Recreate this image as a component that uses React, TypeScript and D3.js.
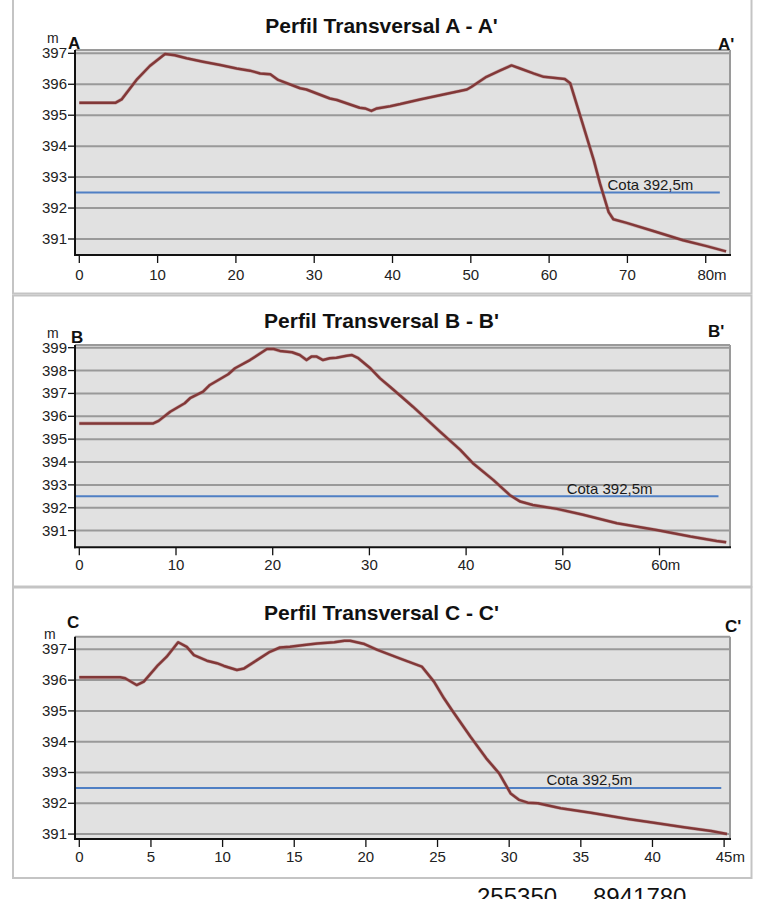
import React from "react";
import * as d3 from "d3";

// ---------- DATA ----------
const distA = [0, 4.6, 5.4, 7.3, 9.0, 10.95, 12.2, 13.7, 15.8, 18.0, 20.1, 21.8, 23.1, 24.4, 25.4, 28.2, 29.0, 32.0, 32.9, 35.8, 36.5, 37.3, 38.0, 39.7, 41.0, 43.5, 46.5, 49.5, 50.1, 52.0, 53.7, 55.2, 56.3, 58.0, 59.3, 60.5, 62.0, 62.7, 64.2, 65.7, 66.5, 67.6, 68.2, 69.9, 73.3, 77.1, 80.1, 82.6];
const elevA = [395.40, 395.40, 395.51, 396.14, 396.59, 396.98, 396.94, 396.84, 396.73, 396.62, 396.51, 396.44, 396.35, 396.32, 396.14, 395.87, 395.83, 395.54, 395.49, 395.24, 395.22, 395.14, 395.22, 395.29, 395.36, 395.51, 395.67, 395.83, 395.92, 396.24, 396.44, 396.61, 396.51, 396.35, 396.24, 396.21, 396.17, 396.03, 394.79, 393.55, 392.79, 391.87, 391.64, 391.52, 391.26, 390.96, 390.77, 390.60];

const distB = [0, 7.65, 8.2, 9.4, 10.9, 11.45, 12.8, 13.5, 15.4, 16.1, 17.65, 19.4, 20.1, 20.75, 22.0, 22.8, 23.5, 24.0, 24.55, 25.2, 25.9, 26.6, 27.65, 28.2, 28.85, 30.1, 31.1, 32.1, 33.2, 34.5, 37.3, 39.4, 40.7, 42.8, 44.5, 45.6, 46.9, 49.4, 52.1, 55.6, 59.7, 63.2, 65.9, 66.9];
const elevB = [395.69, 395.69, 395.80, 396.20, 396.57, 396.79, 397.08, 397.37, 397.84, 398.10, 398.46, 398.94, 398.94, 398.86, 398.80, 398.68, 398.46, 398.61, 398.61, 398.46, 398.54, 398.56, 398.65, 398.68, 398.54, 398.10, 397.66, 397.30, 396.90, 396.42, 395.33, 394.53, 393.95, 393.22, 392.56, 392.27, 392.12, 391.95, 391.69, 391.32, 391.03, 390.74, 390.55, 390.49];

const distC = [0, 2.85, 3.2, 4.0, 4.5, 5.5, 6.1, 6.9, 7.5, 8.0, 8.9, 9.6, 10.1, 11.0, 11.5, 12.4, 13.3, 14.0, 14.7, 15.7, 16.6, 17.8, 18.5, 18.9, 19.9, 20.8, 22.4, 23.9, 24.75, 25.45, 26.0, 27.3, 28.4, 29.3, 30.1, 30.7, 31.3, 32.0, 33.6, 35.7, 38.3, 40.1, 42.2, 44.1, 45.2];
const elevC = [396.09, 396.09, 396.06, 395.84, 395.95, 396.49, 396.76, 397.23, 397.08, 396.81, 396.63, 396.55, 396.46, 396.33, 396.38, 396.65, 396.92, 397.06, 397.08, 397.14, 397.19, 397.23, 397.28, 397.28, 397.17, 396.98, 396.70, 396.44, 395.95, 395.41, 395.03, 394.16, 393.46, 392.97, 392.32, 392.11, 392.02, 392.00, 391.84, 391.69, 391.49, 391.37, 391.22, 391.10, 391.00];

const xTicksA = [0, 10, 20, 30, 40, 50, 60, 70, 80];
const yTicksA = [391, 392, 393, 394, 395, 396, 397];
const xTicksB = [0, 10, 20, 30, 40, 50, 60];
const yTicksB = [391, 392, 393, 394, 395, 396, 397, 398, 399];
const xTicksC = [0, 5, 10, 15, 20, 25, 30, 35, 40, 45];
const yTicksC = [391, 392, 393, 394, 395, 396, 397];

const titles = ["Perfil Transversal A - A'", "Perfil Transversal B - B'", "Perfil Transversal C - C'"];
const startLabels = ["A", "B", "C"];
const endLabels = ["A'", "B'", "C'"];
const cotaValue = 392.5;
const cotaLabel = "Cota 392,5m";
const cotaEnds = [81.8, 66.1, 44.8];
const cotaLabelX = [67.45, 50.4, 32.6];
const footerLabels = ["255350", "8941780"];

// ---------- LAYOUT ----------
const FONT = "'Liberation Sans', Arial, Helvetica, sans-serif";
const panels = [
  {
    box: [13, -4, 751.5, 293.5], plot: { l: 75, t: 50, r: 730, b: 255 },
    xDom: [-0.55, 83.1], yDom: [390.483, 397.107],
    dist: distA, elev: elevA, xTicks: xTicksA, yTicks: yTicksA,
    titleY: 33, startLab: [68, 49], mLab: [47, 43], endLab: [718, 50], xLabY: 280,
  },
  {
    box: [13, 295.5, 751.5, 586.5], plot: { l: 75, t: 345, r: 730, b: 547.3 },
    xDom: [-0.445, 67.29], yDom: [390.27, 399.118],
    dist: distB, elev: elevB, xTicks: xTicksB, yTicks: yTicksB,
    titleY: 328, startLab: [71, 343], mLab: [47, 338], endLab: [708, 337], xLabY: 570,
  },
  {
    box: [13, 587.5, 751.5, 878], plot: { l: 75, t: 636.7, r: 730, b: 839 },
    xDom: [-0.3, 45.41], yDom: [390.84, 397.41],
    dist: distC, elev: elevC, xTicks: xTicksC, yTicks: yTicksC,
    titleY: 620, startLab: [67, 628], mLab: [44, 639], endLab: [725, 632], xLabY: 862,
  },
];

function Panel({ cfg, i }: { cfg: any; i: number }) {
  const { plot } = cfg;
  const x = d3.scaleLinear().domain(cfg.xDom).range([plot.l, plot.r]);
  const y = d3.scaleLinear().domain(cfg.yDom).range([plot.b, plot.t]);
  const pts: [number, number][] = cfg.dist.map((d: number, k: number) => [d, cfg.elev[k]]);
  const line = d3.line<[number, number]>().x((d) => x(d[0])).y((d) => y(d[1]));
  const path = line(pts) || "";
  const lastTick = cfg.xTicks[cfg.xTicks.length - 1];
  const fs = 15;
  const [bx0, by0, bx1, by1] = cfg.box;
  return (
    <g>
      <rect x={bx0} y={by0} width={bx1 - bx0} height={by1 - by0} fill="#fff" stroke="#c4c4c4" strokeWidth={2} />
      <text x={381.5} y={cfg.titleY} textAnchor="middle" fontFamily={FONT} fontWeight="bold" fontSize={21} fill="#111">
        {titles[i]}
      </text>
      <rect x={plot.l} y={plot.t} width={plot.r - plot.l} height={plot.b - plot.t} fill="#e1e1e1" />
      {cfg.yTicks.map((t: number) => (
        <line key={"g" + t} x1={plot.l} x2={plot.r} y1={y(t)} y2={y(t)} stroke="#999" strokeWidth={2} />
      ))}
      <line x1={plot.l} x2={plot.r} y1={plot.t} y2={plot.t} stroke="#9a9a9a" strokeWidth={2} />
      <line x1={plot.r} x2={plot.r} y1={plot.t} y2={plot.b} stroke="#9a9a9a" strokeWidth={2} />
      <line x1={plot.l} x2={x(cotaEnds[i])} y1={y(cotaValue)} y2={y(cotaValue)} stroke="#4f7fc4" strokeWidth={2} />
      <text x={x(cotaLabelX[i])} y={y(cotaValue) - 2.5} fontFamily={FONT} fontSize={15} fill="#1a1a1a">
        {cotaLabel}
      </text>
      <path d={path} fill="none" stroke="#b27a7a" strokeWidth={3.6} strokeLinejoin="round" opacity={0.5} />
      <path d={path} fill="none" stroke="#823838" strokeWidth={2.5} strokeLinejoin="round" />
      <line x1={plot.l} x2={plot.l} y1={plot.t} y2={plot.b + 1} stroke="#111" strokeWidth={2} />
      <line x1={plot.l - 1} x2={plot.r + 1} y1={plot.b} y2={plot.b} stroke="#111" strokeWidth={2} />
      {cfg.yTicks.map((t: number) => (
        <g key={"yt" + t}>
          <line x1={plot.l - 7} x2={plot.l} y1={y(t)} y2={y(t)} stroke="#111" strokeWidth={1.3} />
          <text x={plot.l - 8} y={y(t) + 5} textAnchor="end" fontFamily={FONT} fontSize={fs} fill="#222">
            {t}
          </text>
        </g>
      ))}
      {cfg.xTicks.map((t: number) => (
        <g key={"xt" + t}>
          <line x1={x(t)} x2={x(t)} y1={plot.b} y2={plot.b + 8} stroke="#111" strokeWidth={1.3} />
          <text x={x(t)} y={cfg.xLabY} textAnchor="middle" fontFamily={FONT} fontSize={fs} fill="#222">
            {t}
          </text>
        </g>
      ))}
      <text x={x(lastTick) + String(lastTick).length * fs * 0.278} y={cfg.xLabY} fontFamily={FONT} fontSize={fs} fill="#222">
        m
      </text>
      <text x={cfg.mLab[0]} y={cfg.mLab[1]} fontFamily={FONT} fontSize={14} fill="#222">m</text>
      <text x={cfg.startLab[0]} y={cfg.startLab[1]} fontFamily={FONT} fontWeight="bold" fontSize={17} fill="#111">
        {startLabels[i]}
      </text>
      <text x={cfg.endLab[0]} y={cfg.endLab[1]} fontFamily={FONT} fontWeight="bold" fontSize={17} fill="#111">
        {endLabels[i]}
      </text>
    </g>
  );
}

export default function App() {
  return (
    <svg width={764} height={899} style={{ position: "absolute", left: 0, top: 0, background: "#fff" }}>
      <rect x={0} y={0} width={764} height={899} fill="#fff" />
      {panels.map((p, i) => (
        <Panel key={i} cfg={p} i={i} />
      ))}
      <text x={477} y={905} fontFamily={FONT} fontSize={24} fill="#111">{footerLabels[0]}</text>
      <text x={593} y={905} fontFamily={FONT} fontSize={24} fill="#111">{footerLabels[1]}</text>
    </svg>
  );
}
